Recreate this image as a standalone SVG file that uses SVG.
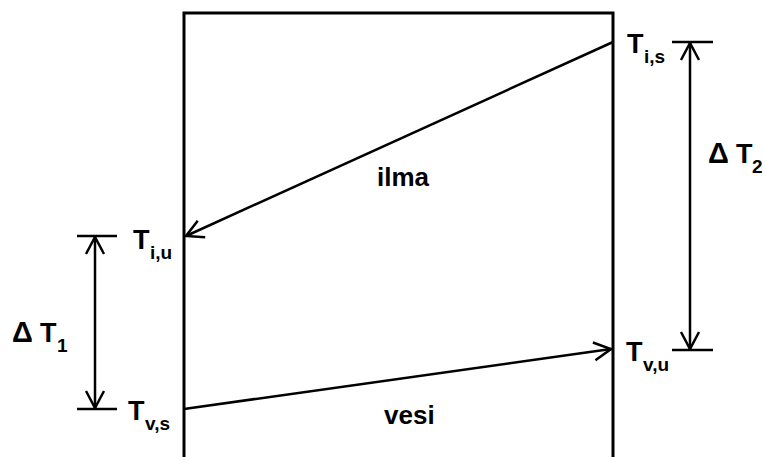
<svg xmlns="http://www.w3.org/2000/svg" width="765" height="457" viewBox="0 0 765 457">
<style>
.ln{stroke:#000;stroke-width:2.5;fill:none}
.bx{stroke:#000;stroke-width:3;fill:none}
.t{font-family:"Liberation Sans",Arial,sans-serif;font-weight:bold;fill:#000}
.big{font-size:27px}
.sub{font-size:19px}
.dl{font-size:29px}
.word{font-size:26px}
</style>
<defs>
<marker id="ah" viewBox="0 0 22 22" refX="20" refY="11" markerWidth="22" markerHeight="22" markerUnits="userSpaceOnUse" orient="auto">
<path d="M3,2 L20,11 L3,20" stroke="#000" stroke-width="2.5" fill="none"/>
</marker>
</defs>
<rect x="0" y="0" width="765" height="457" fill="#fff"/>
<g id="box">
<path class="bx" d="M184,457 V13 H613 V457"/>
</g>
<g id="connectors">
<line class="ln" x1="613" y1="42" x2="186" y2="236" marker-end="url(#ah)"/>
<line class="ln" x1="184" y1="409" x2="611" y2="349" marker-end="url(#ah)"/>
<line class="ln" x1="95" y1="323" x2="95" y2="237" marker-end="url(#ah)"/>
<line class="ln" x1="95" y1="323" x2="95" y2="408" marker-end="url(#ah)"/>
<line class="ln" x1="77" y1="236" x2="117" y2="236"/>
<line class="ln" x1="77" y1="409" x2="117" y2="409"/>
<line class="ln" x1="690" y1="196" x2="690" y2="43" marker-end="url(#ah)"/>
<line class="ln" x1="690" y1="196" x2="690" y2="349" marker-end="url(#ah)"/>
<line class="ln" x1="672" y1="42" x2="713" y2="42"/>
<line class="ln" x1="672" y1="350" x2="713" y2="350"/>
</g>
<g id="labels">
<text class="t big" x="627" y="53">T<tspan class="sub" x="644" dy="10">i,s</tspan></text>
<text class="t big" x="133" y="249">T<tspan class="sub" x="150" dy="10">i,u</tspan></text>
<text class="t big" x="128" y="420">T<tspan class="sub" x="145" dy="10">v,s</tspan></text>
<text class="t big" x="626" y="361">T<tspan class="sub" x="643" dy="10">v,u</tspan></text>
<text class="t dl" x="12" y="342">Δ</text>
<text class="t big" x="40" y="342">T<tspan class="sub" x="57" dy="10">1</tspan></text>
<text class="t dl" x="708" y="163">Δ</text>
<text class="t big" x="736" y="163">T<tspan class="sub" x="752" dy="10">2</tspan></text>
<text class="t word" x="377" y="186">ilma</text>
<text class="t word" x="384" y="424">vesi</text>
</g>
</svg>
